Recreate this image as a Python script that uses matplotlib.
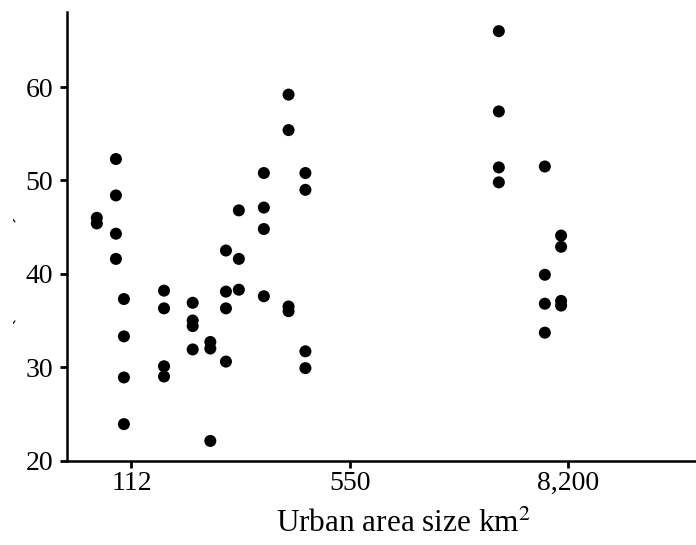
import numpy as np
import matplotlib
matplotlib.use("Agg")
import matplotlib.pyplot as plt
from matplotlib.ticker import FixedLocator, FixedFormatter, NullLocator
from matplotlib.transforms import Bbox

plt.rcParams['font.family'] = ['Liberation Serif', 'DejaVu Serif']
plt.rcParams['mathtext.fontset'] = 'stix'

# urban area size (km2) of each city and the commute times observed there
area_km2 = [87, 100, 106, 142, 175, 199, 223, 245, 294, 352, 398, 3480, 6150, 7520]
commute = [
    [46.0, 45.4],
    [52.3, 48.4, 44.3, 41.6],
    [37.3, 33.3, 28.9, 23.9],
    [38.2, 36.3, 30.1, 29.0],
    [36.9, 35.0, 34.4, 31.9],
    [32.7, 32.0, 22.1],
    [42.5, 38.1, 36.3, 30.6],
    [46.8, 41.6, 38.3],
    [50.8, 47.1, 44.8, 37.6],
    [59.2, 55.4, 36.5, 36.0],
    [50.8, 49.0, 31.7, 29.9],
    [66.0, 57.4, 51.4, 49.8],
    [51.5, 39.9, 36.8, 33.7],
    [44.1, 42.9, 37.1, 36.6],
]
tick_vals = [112, 550, 8200]
tick_labels = ['112', '550', '8,200']

# piecewise log scale: equal spacing between the breaks
L1 = np.log(tick_vals[1] / tick_vals[0])
L2 = np.log(tick_vals[2] / tick_vals[1])

def fwd(a):
    a = np.clip(np.asarray(a, dtype=float), 1e-9, None)
    return np.where(a <= tick_vals[1],
                    np.log(a / tick_vals[0]) / L1,
                    1 + np.log(a / tick_vals[1]) / L2)

def inv(p):
    p = np.asarray(p, dtype=float)
    with np.errstate(over='ignore'):
        return np.where(p <= 1,
                        tick_vals[0] * np.exp(p * L1),
                        tick_vals[1] * np.exp((p - 1) * L2))

xs = []
ys = []
for a, vals in zip(area_km2, commute):
    xs += [a] * len(vals)
    ys += vals

fig = plt.figure(figsize=(6.96, 5.45), dpi=100)
ax = fig.add_axes([67 / 696, 84 / 545, 672 / 696, 449 / 545])

ax.scatter(xs, ys, s=75, color='black', edgecolors='none', zorder=3)

ax.set_xscale('function', functions=(fwd, inv))
ax.set_xlim(70, 68000)
ax.set_ylim(19.95, 68.05)
ax.xaxis.set_major_locator(FixedLocator(tick_vals))
ax.xaxis.set_major_formatter(FixedFormatter(tick_labels))
ax.xaxis.set_minor_locator(NullLocator())
ax.set_yticks([20, 30, 40, 50, 60])

for side in ['top', 'right']:
    ax.spines[side].set_visible(False)
for side in ['left', 'bottom']:
    ax.spines[side].set_linewidth(1.8)
ax.tick_params(axis='both', length=5, width=2, labelsize=20, colors='black')
ax.tick_params(axis='x', pad=2)
ax.tick_params(axis='y', pad=5)

ax.set_xlabel('Urban area size km$^2$', fontsize=22.5, labelpad=10)

# y title sits in the left margin, only a sliver of it is shown
ylab = fig.text(16 / 696, 1 - 212 / 545, 'Commute time (minutes)', rotation=90,
                ha='right', va='top', fontsize=22)
ylab.set_clip_box(Bbox([[12.7, 0], [60, 545]]))
ylab.set_clip_on(True)

fig.savefig('out.png', dpi=100)
